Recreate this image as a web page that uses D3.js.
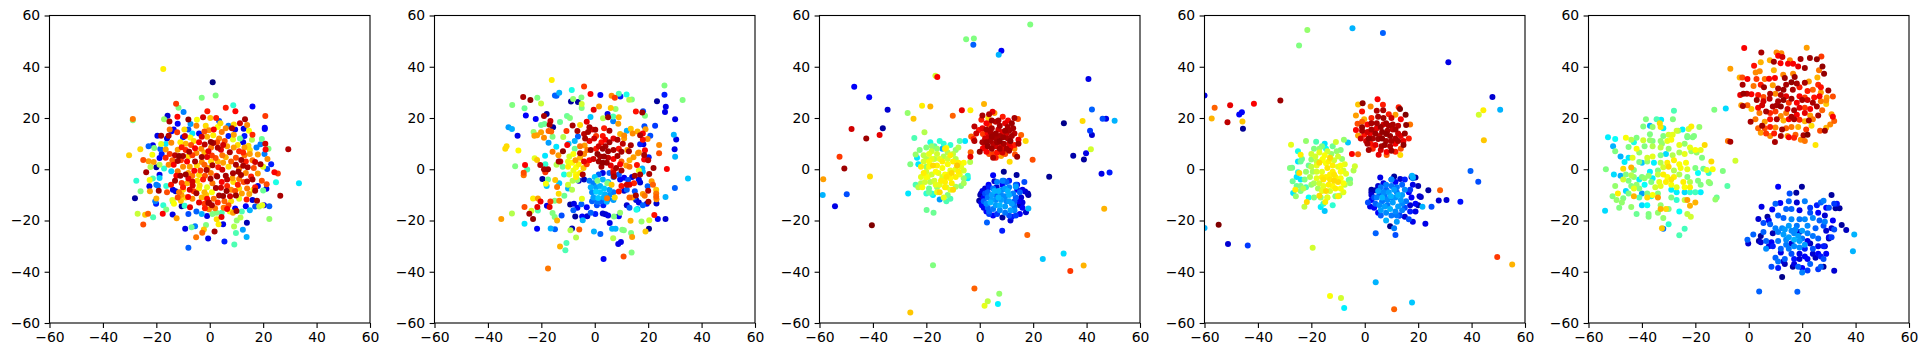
<!DOCTYPE html>
<html>
<head>
<meta charset="utf-8">
<script src="https://cdn.jsdelivr.net/npm/d3@7"></script>
<style>
  body { margin: 0; background: #fff; }
  text { font-family: "DejaVu Sans", sans-serif; }
</style>
</head>
<body>
<svg id="chart" width="1927" height="357"></svg>
<script>
'use strict'

const tickValues = [-60, -40, -20, 0, 20, 40, 60]

// each point is [x, y, colour value 0-100 on the jet map]
const points1 = [
  [-17.4,39.1,64],[1.1,34,0],[-3,27.9,50],[2.2,28.8,50],[-12.6,25.6,82],[-11.7,24,50],[-9.8,22.3,25],[8.8,25,42],[16,24.5,12],[6,24,85],[9.6,22.6,87],[-.9,22.6,85],
  [-15.8,20.9,8],[-17.1,19.5,52],[-28.8,19.1,50],[-28.8,19.6,76],[-12.1,20.5,87],[-8,19.4,98],[20.8,20.8,82],[20.6,16.2,12],[20.6,15.7,12],[-30.2,5.5,67],[-26,7.8,66],
  [-24.9,3.6,80],[29.4,7.8,95],[33.4,-5.5,35],[23,2,15],[24.2,-1.2,88],[25.5,-1.7,82],[-23.8,-1.2,96],[-27.5,-4.5,42],[-28,-11.3,3],[-25.9,-8.6,50],[-22.4,-8.6,72],[-19.1,-8.4,97],
  [-27,-17.4,57],[-24.2,-17.8,68],[-23.1,-17.4,78],[-24.9,-21.6,80],[-21.2,-18.7,45],[-17.6,-17.4,88],[-13.9,-17.7,10],[-12.4,-19.1,72],[-9.2,-23.2,10],[-8,-30.6,22],[-6.8,-22.6,48],[-5.5,-22.2,25],[-5.1,-26.5,76],
  [-2.8,-24.8,78],[-2.2,-23.5,68],[-1.4,-21.8,50],[-.6,-27,10],[1.8,-24.3,96],[5.5,-28.2,15],[9.2,-29.4,45],[9.8,-24.9,45],[9.1,-22.3,55],[12.4,-23.6,28],[13.8,-26.4,30],[13.9,-20.9,5],
  [10.1,-20,52],[11.5,-18.8,55],[22.3,-19.4,52],[22.3,-14.4,22],[26.4,-10.3,96],[24.8,-5.1,40],
  [-15.1,18.6,96],[-15,15.5,76],[-14.3,14.8,12],[-13.5,15.5,12],[-12,17.8,12],[-15.4,13.1,95],[-18.2,13.1,96],[-19.6,13.1,10],[-12.2,14.4,82],[-14.4,10.3,74],[-16.5,9.9,35],[-18.2,9.9,60],[-21.3,9.4,10],[-22.9,9,22],
  [-20.8,8.3,50],[-18.5,7.9,22],[-16.5,7.7,72],[-21.5,5.7,62],[-15,6,82],[-18.8,4.4,12],[-21,2.8,72],[-22.9,3.1,72],[-22.2,.9,55],[-20,.8,3],[-18.8,1.8,55],[-17.1,.3,42],[-15.4,1.8,74],[-14.4,-.8,33],[-18.8,-2.1,10],[-18.8,-3.4,33],
  [-21.3,-3.6,45],[-22.5,-4.2,62],[-22.6,-6.6,10],[-20,-6,25],[-19.4,-6.4,25],[-16.3,-6.5,42],[-20,-11.4,70],[-20.4,-12.5,25],[-20.1,-13.5,15],[-16,-9,80],[-17.4,-14,42],[-16.3,-15.7,50],[-13.8,-12.7,48],[-13.4,-13.5,62],[-10.5,-14.4,3],[-9.4,-14.2,42],
  [-7.4,-14.8,90],[-10.8,-12.3,68],[-8.1,-10.8,88],[-13.8,-8,10],[-12.8,-8.6,8],[-10.6,-10,72],[-10,-8,66],[-7.5,-8,92],[-6,-8.6,82],[-5,-9.4,96],[-3,-11,70],[-4,-13,90],[-2,-13.5,82],[-.5,-13.2,96],[-1.8,-15.2,85],[-.3,-15.6,74],[2,-15.2,76],
  [2.5,-17,50],[4.4,-18.6,90],[6.5,-15.5,88],[5.2,-15,76],[7,-14,80],[3.3,-21.5,64],[5,-21.5,10],[2.6,-19.5,66],[10,-16.3,96],[8.7,-17,72],[9.5,-15.3,12],[13.5,-14.4,12],[11,-11.5,60],[13.8,-11.8,85],[14.8,-9.7,72],[17.7,-12.3,96],[16,-12,8],[19.7,-14,60],[18.5,-14.5,55],
  [20.3,-14,12],[21.2,-7.6,10],[21.3,-5.9,80],[20,-8.3,48],[18,-6.5,10],[17,-8.4,96],[17,-7,85],[16.3,-8,64],[16,-4,96],[14,-4.8,94],[15.5,-2.8,85],[19.5,-4.5,80],[18,-1.7,72],[21.5,.1,20],[20,1,60],[21.6,4,74],[19,2,96],[17,2.8,92],[16,3.5,76],[18,5.8,72],[20.5,6,25],[20.9,7.7,88],[22,8,50],
  [20.8,10,92],[19,9.8,25],[19.5,11.8,48],[15.8,11.5,55],[16,13.5,84],[14.7,15,62],[14,17.3,74],[13.2,19.5,96],[11.3,18,92],[9,17.5,66],[7,17,25],[9.5,15.5,10],[12.7,15.8,10],[8.3,16,96],[6,16,74],[3,16.5,62],[4,18,66],[3.5,18.8,20],[2.4,20,85],[.2,20,68],[-2.5,20.3,92],[-4.8,19.3,62],[-5,17,75],[-7.2,17.7,28],
  [-.3,15.2,74],[-2,14.7,80],[-3,12.7,92],[-4,14,12],[-6.5,14,35],[-9.3,13,92],[-7.3,12.4,62],[-1,12.7,70],[1.3,13.3,64],[3.5,12,74],[5.6,11,80],[7,13,15],[8.7,11.6,60],[11.3,12,48],[12.5,10.5,10],[14.5,9.2,66],[13,8.5,72],[11,7,84],[7.5,6.6,96],[9,8.5,72],[5,9.5,92],[3,8.4,96],[4.2,7.6,90],
  [1.3,10.2,96],[.4,10.6,98],[-1.9,9.7,94],[-.5,7,90],[-3.2,8,74],[-5.5,8.2,88],[-7.7,6.8,96],[-9,7.5,84],[-10.5,8.6,85],[-12,7.6,72],[-13,5.5,94],[-11.5,5.2,98],[-10,5.2,96],[-12,3.2,96],[-10.8,3.5,82],[-8.5,3,88],[-5.5,3,96],[-3,4.8,97],[-1,4.8,90],[.8,5.4,82],[2.2,4.4,80],[4.7,5.5,76],[6,4.7,70],[9.8,4.5,80],[11.8,3.6,96],[13.5,3,85],
  [-13.5,1.8,88],[-10,1,74],[-7.5,1,72],[-4.8,1.5,66],[-3,2.8,74],[-.8,.5,72],[1,1.6,96],[3.2,.8,85],[5,2.5,72],[7,1,66],[9.8,1.8,96],[11,.2,76],[12.5,1.4,96],[14.2,.8,96],[-12.5,-2.5,88],[-11,-2.5,96],[-9,-2,97],[-8,-1.5,72],[-5.8,-.6,88],[-3.5,-.5,82],[-1.2,-.3,96],[.4,-1.5,76],[2.5,-2.5,85],[4.7,-.2,92],
  [6,-2.5,96],[8.7,-1.6,96],[10.7,-1,97],[11.7,-2.2,96],[-13,-4.5,96],[-10.5,-5.4,82],[-8,-3.6,90],[-6.5,-4.8,92],[-4.7,-4.5,66],[-2.5,-4,85],[.3,-3.7,96],[2.8,-2.8,97],[4.5,-5,88],[6.5,-4,94],[8.8,-5,66],[10.5,-6,85],[12.7,-5,80],[-10,-7,85],[-6.4,-6.3,92],[-3.8,-6.3,66],[-1,-7,60],[2.3,-7.3,96],[4.2,-7.2,92],[6.3,-8.5,97],[8,-8,74],[11,-7.5,66],[3.5,-10.2,96],[5,-10.4,97],
  [7.6,-10.5,92],[9.8,-10.2,97],[-1.3,-10,68],[.8,-9,62],[-.3,-13,96],[.8,-14,96],
  [-14,3.5,78],[-16.5,4.5,84],[-12,-.8,76],[-14.5,-6,86],[-11.5,-9,76],[-9,-11,66],[-6.5,-11.5,74],[-8.5,-5.5,70],[-4,-7.5,64],[-2,-9,70],[-1,-11.5,88],[1.5,-11.5,76],[3,-13,84],[5.5,-12.5,78],[8,-12.5,66],[9.5,-8.5,80],[12,-9.5,72],[14,-7.5,76],[-6.5,-2.5,76],[-4,-2.2,66],[-1.8,-2.5,80],[1,-5.5,76],[6.5,-6.5,84],[8.5,-3.5,72],[11,-3.8,76],[13.5,-1.5,74],[16.5,.5,80],[15,6,72],[13,5.5,76],[12.5,6.5,84],[8,3,78],[3,3,70],[.5,3,66],[-2,1.8,78],[-6.5,5.5,82],[-8,5,66],[-5,6.3,74],[-2,6.5,70],[.5,8.5,76],[-7,9.5,80],[-9,10,70],[-11,10.5,64],[-4,10.5,88],[-6,11,66],[2.8,10.5,80],[6.5,9,72],[10.5,9.5,66],[9,13.5,72],[4.5,14.5,76],[-1.5,17,66],[1.5,15.5,88],[-9.5,15.5,66],[-10,12.5,15],[-8,15.5,20],[13,13,15],[15,7.5,66],[17.5,8.5,25],[-16,12,10],[-18,6,15],[-14,-12,60],[-12,-11,80],[7.5,-16.5,62],[4.5,-17,45],[-3,-17.5,30],[-5,-16.5,22],[-8,-17.5,20],[-1,-18.2,10],[1,-17.5,50],[12,-16.5,45],[15,-16,30],[17,-14.5,20]
]

const points2 = [
  [-16.1,34.8,64],[-4,32.3,82],[-8.6,30.9,40],[-13.3,29.9,30],[-14.9,28.8,22],[-14.3,28.7,22],[-26.8,28.2,96],[-24.1,27,98],[-21.5,27.9,50],[-20.1,25.7,57],[-30.9,25.1,50],[-26.3,23.8,48],[-25.8,21,12],[-22.1,19.6,12],[-18,21.6,3],[-19,20.8,96],[-16.6,18.8,93],[-16.9,17.4,96],[-15.6,16.4,3],[-32.3,16.4,28],[-31,15.7,30],[-28.9,13.1,10],[-22.9,14.5,52],[-20.1,17.3,48],[-18.8,17.7,48],[-13,18.4,48],[-10.4,20.8,48],[-9.3,20,50],[-1.6,20.4,32],
  [-8.9,26.4,3],[-8.1,27.4,52],[-6.3,26.2,3],[-5,28,50],[-4.9,25.5,58],[-4.9,23.9,50],[-1.6,29.4,88],[2.1,29,12],[6.3,28.7,74],[7.5,27.9,82],[9.6,28.4,15],[9,29.5,45],[11.9,29.2,40],[12.9,27.1,55],[13.9,27.2,50],[26.1,32.7,50],[26.1,29.1,15],[23.3,26.5,3],[32.9,27,50],[26.6,24.4,10],[26.3,22.3,10],[30.1,19.5,10],[22.6,17,18],[18.1,22.6,20],[17.8,22.1,97],[15.4,22.5,86],[18.8,20.9,50],[1.6,24.5,72],[-.4,23.2,90],[6,23.9,68],[7.8,23.5,52],[4.8,21.6,10],[5,20.3,97],[3.1,19.9,55],[6.9,20.6,45],[9,20.3,70],[8.8,17.8,72],[6.9,18.7,25],
  [29.6,13.5,30],[30.5,11.6,10],[29.9,7.8,10],[30.1,4.9,30],[20.8,13.1,20],[18.6,16.8,20],[24.1,9.5,74],[24.1,6.2,80],[27,.1,88],[22,.5,97],[34.9,-3.6,32],[30,-7.3,22],[26.5,-10.8,30],[23.1,-13.4,8],[20.1,-12.7,96],[20,-8.4,94],[19.8,-6.6,22],[20.4,-1.9,96],[26.5,-19.4,8],[23.6,-19.4,12],[22.3,-17.9,86],[20.4,-19.9,58],[20.3,-23.2,2],[17.5,-20.4,52],[19,-24.3,68],[13.4,-20.1,70],[14,-26.4,72],[13.6,-24.9,50],[10.3,-23.6,50],[10.9,-23.8,50],[13.8,-32.5,50],[10.8,-34,80],[9.8,-28.4,10],[8.8,-29.2,10],[6.9,-26.9,55],[6.5,-23.2,30],[7.8,-23.2,30],[5.6,-21,10],[3.3,-35,12],[-17.5,-38.7,76],[-13,-30.1,70],[-11,-31.6,45],[-10.6,-28.8,45],[-7,-26.6,55],[-9.1,-23.8,55],[-8.5,-23.1,5],[-5.8,-23.5,78],[-.3,-24.3,30],[2.1,-25.3,22],
  [-35,-19.4,72],[-31,-17.3,55],[-26.3,-21.3,35],[-23.1,-19.4,98],[-24.5,-17.4,96],[-23.7,-16.2,58],[-26.3,-14.7,80],[-21.5,-14.7,90],[-21.3,-16.1,45],[-21.6,-23.2,12],[-16.5,-23.1,30],[-14.9,-23.4,22],[-15.8,-17.1,50],[-15,-18.6,50],[-14.1,-20,70],[-12.4,-18,20],[-23.1,-11.4,64],[-21.3,-11.4,72],[-20.3,-12.6,90],[-16.6,-12.6,82],[-16.9,-14.7,90],[-17.9,-14.2,10],[-13.3,-12.3,74],[-15,-12.3,50],[-13.5,-9.6,66],[-11.4,-10.3,48],[-14.1,-6.9,76],[-18.3,-5.7,62],[-14.8,-4.2,68],[-19.6,-3.8,3],[-17.5,-4,48],[-18,-6.5,32],[-13.3,-5.5,32],
  [-33,9,66],[-33.5,8,66],[-28.6,7.3,63],[-29.8,1.2,50],[-26.1,1.7,88],[-25.3,-.1,45],[-26.6,-1.4,80],[-26.6,-2.3,76],[-22.5,4.3,60],[-21.6,3.6,68],[-20.4,1.7,94],[-18.5,2,42],[-19,0,96],[-17.5,0,97],[-18.5,-1.2,82],[-22.6,13.1,72],[-21.6,13.3,72],[-20.1,14.4,72],[-19,12.3,74],[-17.3,14.9,78],[-16.3,14.7,78],[-15.8,12.7,50],[-17.3,10.3,28],[-14.4,8.8,35],[-18.6,5.3,35],[-15.8,6.8,76],[-13.6,5.5,72],[-11.9,7,98],[-10.3,9.5,88],[-11.8,12.6,55],[-10.6,14.9,82],[-8.3,17.1,96],[-6.5,14.9,96],[-6.3,12.8,22],[-5.5,17.3,66],
  [-12.9,3,92],[-13.5,3,96],[-14.3,1.8,55],[-12,1,48],[-11.5,-2,40],[-10,-6,58],[-8.5,-8,55],[-10,-7.5,30],[-6,-4.5,8],[-4,-4,6],[-7.8,-13.5,10],[-9.2,-13.8,3],[-6.5,-15,12],[-8,-16,22],[-5,-13.7,22],[-4.8,-11.5,60],[-3,-14.8,12],[-1.5,-17,22],[.2,-17.5,15],[-2.8,-18.3,8],[-7.3,-18.4,3],[-4.7,-18.4,12],[-4.5,-19.9,30],[3,-17.3,8],[4,-17.6,8],[5,-18,10],[9,-18.3,12],[7.2,-18.4,50],[9.5,-17,52],[13,-15,22],[12,-14,8],[15.6,-15.8,40],[16,-15.5,32],[18,-14,22],[19.5,-13.5,12],[16.5,-13,10],[15.5,-12,8],[14,-11,72],[13,-11,78],[15.4,-10.2,96],[14.8,-11,20],[18,-9.7,72],[18.7,-10.3,76],[23,-9.5,76],[23,-10.7,78],[23.1,-11.7,74],[23,-8,68],[21.8,-6,78],[21.3,-4.7,72],
  [15,-8.6,20],[13,-6,90],[12,-6,92],[10,-6.5,86],[12,-8,22],[11,-8.4,8],[9,-8.7,86],[16.5,-4,10],[17,-5.2,8],[14,-3,8],[14.7,-5.5,84],[12.5,-4.2,20],[11,-3.3,12],[9.5,-4,12],[9,-2,22],[10,-.5,96],[7,-1.5,92],[7.2,-2.8,96],[17,-2,96],[15,-2.5,96],[18,-1,32],[16.5,-.5,60],[17.8,.3,30],[15.8,1.7,86],[13,1,76],[11.8,1.5,72],[10,3,78],[13,3.5,70],[20,3.5,94],[18.5,3.8,88],[18.5,5.6,96],[20.2,4.7,15],[18.8,7.4,88],[16.5,6.5,74],[16.2,6.2,72],[14.5,4.7,72],[12.2,7.5,72],[10,6.8,96],[13.5,9.4,96],[12.8,7,96],[14.2,14,74],[16,14.7,70],[17,13.3,95],[18,14,88],[19,15.6,72],[19.8,11.8,74],[18,11.5,86],[17,9.8,15],[18.2,9.8,10],[11,13.2,74],[9.5,13.8,70],[12,15,30],[13.5,15.8,68],
  [-7.5,11,30],[-9.8,10,32],[-7.5,8,48],[-8,6,62],[-9.5,5,58],[-10,3,60],[-10,1,64],[-8.5,2.5,62],[-7.2,3.5,72],[-6,2,64],[-7,.8,62],[-8,-.5,60],[-9.5,-2,58],[-7,-2,63],[-5.5,-1.5,64],[-7,-3,64],[-4.5,-2,95],[-8.3,-4.5,55],[-6.5,-4.2,52],[-4.2,.5,68],[-5.5,4.5,70],[-4,6,74],[-2.8,7.5,76],[-4,3,90],[-5.5,6.2,96],[-3,2,82],[-5.5,9,76],[-3.8,9.3,72],
  [-3.6,12,96],[-4,13.8,94],[-2.5,14.5,96],[-1,15.5,90],[-2,16.4,96],[-3,18.5,90],[.2,15.4,96],[-.2,12,92],[.5,13,82],[-2,11,90],[3,13,86],[3.5,16,85],[5.5,15,96],[4,11.5,88],[5.5,10.5,96],[7,12,90],[8.5,11.5,96],[10.5,10,94],[11,12,72],[1.5,9,92],[2.5,10.5,86],[.5,8,86],[-1.5,7.5,97],[1,6,98],[3,8,97],[4,9,96],[5,7,97],[7,7.5,96],[9,8,86],[2,5,96],[3.5,5,97],[5,4.5,94],[7,4,88],[8.5,5.2,96],[9.5,2,88],[1.5,3,97],[3,2.5,98],[4.5,2.5,97],[6,1.5,90],[-.5,4,92],[-2,3.5,88],[2.5,1,96],[8,.5,96],[7,-.5,85],
  [-2,-4.5,25],[0,-3,32],[1.5,-2,22],[3,-1.5,10],[5.5,-1.5,22],[7,-3,25],[-.5,-5.5,25],[1,-4.5,50],[3,-4,30],[5,-5,32],[4.7,-5.5,50],[6.3,-6,68],[-1.5,-7,30],[.5,-7,28],[2,-6.5,30],[3.5,-7.5,32],[5.5,-8,28],[7,-9,24],[-1,-9,26],[.5,-8.8,33],[2,-9,32],[3.8,-9.8,30],[5.5,-10,26],[-.5,-11,28],[1.3,-11.2,32],[3.3,-11,30],[5,-11.7,24],[-1,-12.5,22],[1,-12.7,24],[2.5,-12.5,22],[4.5,-12.7,30],[7.5,-11,66],[4.6,-11.3,76],[7,-12,28],[.8,-14,20],[3.2,-14,15]
]

const points3 = [
  [18.9,56.5,50],[-5.1,50.7,50],[-2.2,51,50],[-2.4,48.6,22],[8.1,46.2,12],[7.1,44.7,30],[40.7,35.2,10],[-16.6,36.5,58],[-15.9,36,88],[-47,32.2,12],[-41.4,28.1,12],[-34.5,23.2,8],[42,23.3,22],[-27,22,52],[-21.6,24.8,64],[-18.5,24.5,70],[1.6,25.5,70],[-6.7,23,90],[-3.5,23,64],[-10.1,20.9,78],[-24.8,19.7,68],[46,19.7,20],[47.3,19.7,10],[50.5,18.9,30],[31.5,18,1],[38.5,18.8,66],[-36.3,16,3],[-48,15.7,92],[-37.5,13.4,90],[-42.5,12,97],[41.3,15,18],[42,13.4,8],[-20.7,14.4,55],[-24.5,12.2,45],[-52.5,4.9,82],[-50.7,.3,97],[39.8,6.2,10],[35,5.3,4],[39,3.8,3],[41.6,7.8,58],[-58.6,-3.9,72],[-41.1,-2.8,66],[26,-2.9,2],[45.6,-1.8,10],[48.6,-1.3,15],[-58.8,-10,30],[-49.8,-9.8,20],[-54.2,-14.4,10],[-26.8,-9.5,35],[46.6,-15.4,70],[-40.4,-21.9,100],[8.4,-24,15],[17.8,-25.7,78],[2.7,-20.8,22],[-19.9,-15.9,48],[-17.3,-17,48],[18.2,-15.3,30],[17.3,-16.8,8],
  [-17.5,-37.5,50],[23.6,-35,32],[31.4,-32.9,34],[33.9,-39.7,82],[38.9,-37.6,70],[-2,-46.5,78],[7.3,-48.6,52],[3,-51.5,56],[1.8,-53.3,60],[6.8,-52.6,36],[-26,-55.9,68],
  [19.8,3.7,80],[11.2,2.9,66],[-3.4,6.6,78],[-3.5,4.9,90],[-3.6,2.8,55],[14,4.9,97],[13.2,5.8,80],[17.2,11,66],[15.5,13.4,78],[14.3,19.6,80],[13,20,96],[10.6,19,88],[8.6,20.5,85],[5.5,22,72],[4.8,22.4,90],[3.5,21.5,95],[1,21,96],[.6,19.3,85],[3.2,20,66],[-2,16.7,94],[-.3,15.3,86],[-3.2,12.8,78],[-2.3,11.8,85],[-1.3,14,92],
  [-2,11,95],[0,6.8,98],[1.2,8.2,88],[1,10.5,96],[2,12,92],[1.2,13.8,82],[2.5,15.5,96],[2.5,18,88],[4.5,16,96],[4.5,19,97],[6,18.5,94],[7,19,96],[7.5,17,96],[9.5,18,90],[10.5,16.5,96],[12,18,97],[12.5,16,96],[13,14,94],[12,13,96],[14.5,11.5,90],[14.5,10,96],[13,9.5,85],[13,8,74],[11,7.2,96],[10,8,96],[8.5,6.5,92],[8,5.2,72],[6,4.5,85],[5,4.5,95],[5,6,82],[3.5,6,80],[2.5,6.8,88],[3,9,98],[2.5,10.5,97],[4,11,96],[4.5,12.8,97],[6,12,96],[6,14,97],[7.5,13,96],[7.5,11,98],[9,10,96],[8.8,12.5,97],[10.5,12,96],[10,14,92],[11,10,90],[6,9,92],[7.5,8,96],[4.5,8,97],[9.5,15,97],
  [-22,1,64],[-20,4,55],[-21,5.5,56],[-22.5,7.5,50],[-20,8.5,50],[-18.5,10.5,40],[-17,9,45],[-15,11,42],[-13.5,10,42],[-14,8,30],[-11,9.5,42],[-9,7.5,52],[-8,8.5,55],[-7.5,11,45],[-5.5,11,35],[-13,8,64],[-24,5.8,52],[-23.5,4.5,35],[-23,2,35],[-26,2,50],[-22,-5.5,55],[-24,-6,45],[-23,-7,56],[-21.5,-7,62],[-20,-9.5,42],[-19,-9,48],[-18,-9.5,42],[-17.5,-10,36],[-16,-9,60],[-15,-9,66],[-15,-11.8,28],[-12.5,-12.5,45],[-11,-11.5,45],[-13.5,-11,60],[-12,-10,50],[-12.5,-7,58],[-10,-8,66],[-9,-6.8,54],[-7,-6.5,50],[-4.5,-2.5,42],[-4.5,-3.5,36],[-6,-3.5,52],[-7.5,-2,60],[-6,-.5,58],[-7,1,60],[-6,2.5,62],[-8,2.5,64],[-9,4,55],[-10,6,56],[-11,5.5,64],[-12,4,58],[-13.5,5,55],
  [-16,6,58],[-18,7,58],[-19,6,60],[-17,4,56],[-15,4,60],[-16,1.5,64],[-17.5,1.5,66],[-19,1,62],[-20,-1,58],[-22,-3,60],[-20,-3,62],[-18,-2,58],[-15.5,-1.5,60],[-13,-2,62],[-11,-.5,60],[-9,0,60],[-12,2,62],[-14,.5,62],[-17,-4.5,58],[-15,-6,60],[-13,-5,64],[-11,-3.5,63],[-9,-3,64],[-10.5,-5.5,64],[-18.5,-5,55],[-20.5,-5,58],[-16,-7,52],[-13,-7,64],[-11.5,-2,64],[-12.5,-3,65],[-14,-3,58],[-12.5,8.3,62],[-18,4,60],[-21,-1.5,64],[-8.5,1.5,68],[-19,-7.5,48],
  [5,-2.3,12],[9,-1,2],[13.8,-2.2,3],[5.5,-4.7,8],[16.7,-5,20],[14,-6,12],[11,-4.5,15],[9,-4.5,22],[8.5,-6,12],[6.3,-7,8],[3.3,-6,12],[2,-7.5,8],[1,-8.5,10],[.5,-9.5,6],[.2,-10,4],[16,-8,10],[17,-8.7,8],[18,-9.5,5],[18.2,-10,3],[-.2,-12.3,3],[.5,-13,10],[.8,-14,12],[1.5,-15,10],[2.5,-16.5,12],[3.5,-17.5,18],[5,-18,12],[6.5,-17.5,18],[8.5,-18.8,3],[11.5,-20,8],[12,-18.5,15],[13.5,-18,18],[15,-17.5,12],[16,-15,12],[16,-13,10],[15,-14,3],[15.5,-11,8],
  [3,-9,22],[5,-7.5,24],[6.5,-5,25],[8.5,-4.5,25],[10,-5,22],[13.5,-6,22],[13.5,-6.8,28],[11,-7,25],[8.5,-8,26],[7,-8.5,30],[4.5,-10,28],[3,-11,24],[2.5,-13.5,26],[4,-13,30],[3,-15,22],[5,-15.5,24],[6,-14,28],[8,-12,28],[9.5,-10.5,26],[11,-10,30],[12.5,-9.5,25],[13.5,-11,22],[11,-12.5,28],[9.5,-14.5,28],[7.5,-16,26],[9.5,-17,24],[11.5,-16,28],[13,-14.5,24],[7,-11,30],[5.5,-8.5,30],[9.5,-7.5,28],[11,-18,20],[13,-12.5,22],[6,-12,26],
  [14,-8,12],[15,-9,22],[14.5,-12.5,12],[1.5,-11,12],[2,-9.5,20],[1.5,-12.5,22],[3.5,-16.5,22],[7.5,-14,30],[10,-12.5,26],[12,-13.5,28],[10.5,-8.5,30],[8,-10,26],[4.5,-12,28],[6,-10,22],[3.5,-7,15],[13,-16,26],
  [4,14.5,96],[2,9,90],[3,14,88],[7,15.5,92],[8.5,14.5,90],[11,15,96],[11.5,11,98],[9,8.5,86],[6.5,10.5,97],[5,10,94],[3.3,12.5,92],[1,16,90],[3.5,17.5,82],[8,9.5,92],[11.5,8.5,88],[6.5,6.5,86],[9.5,6,80],
  [-16.5,-1,62],[-19,3,62],[-21,3,58],[-14,3,64],[-10,3,64],[-10.5,-1.5,66],[-8,-1,64],[-14.5,-4.5,64],[-16.5,-6,60],[-19.5,-3,60],[-18,9,52],[-16,8,52],[-12,6.5,55],[-20,1,52],[-6,-5.5,54],[-11,-8,60]
]

const points4 = [
  [-21.5,54.3,52],[-4.6,55,30],[6.8,53.2,22],[-24.6,48.3,50],[31.3,41.8,10],[-60,28.8,10],[47.8,28.2,8],[-56.2,24,78],[-50.4,25,90],[-41.5,25.6,88],[-31.6,26.8,97],[50.7,23.2,30],[-46,22.2,12],[-47,21.4,12],[-57.3,19.8,70],[-45.8,18.6,68],[-51.4,18.3,94],[44.4,23,64],[42.7,21.3,58],[-45.6,15.8,2],[44.6,11.3,68],[39.6,-.7,22],[42.5,-4.9,20],[28.2,-8.2,78],[23.8,-8.2,3],[27.7,-12.2,8],[30.6,-12,8],[35.8,-12.7,14],[25,-14.6,20],[21.6,-14.6,30],[-54.7,-21.7,100],[-60,-22.9,30],[-51.2,-29.2,8],[-43.8,-29.8,18],[4.1,-25,22],[11.5,-25.7,20],[-19.5,-30.6,58],[22.7,-21.3,10],[18,-20.5,10],[4.1,-44.1,30],[-13,-49.5,62],[-8.9,-50.2,58],[-7.7,-54.1,36],[17.7,-52,32],[11,-54.6,78],[49.6,-34.2,82],[55.2,-37.2,70],
  [-.8,25.8,98],[-2.5,25.3,68],[4.8,27.3,88],[6.8,25.2,85],[12.7,24.2,85],[13.2,23.5,100],[15.3,21.3,100],[2.2,24.5,74],[-1,22.5,86],[-3.3,21,72],[4.5,22.8,95],[6.9,23,96],[9,21.5,85],[11.5,21.3,72],[13.5,19.5,88],[-.2,19.5,70],[1,17.5,88],[-2.7,17.8,80],[-3.3,15.3,88],[-2.5,13.2,72],[-1.5,12,92],[-.2,13.5,86],[-1,15,96],[-1,16.4,98],[2.5,15.5,96],[2.5,18,96],[4.5,18,96],[5,20.5,96],[7,20,97],[8,18,96],[10,20,92],[10.5,17.5,96],[11.5,15.5,96],[12.5,17,94],[15,14,97],[15.5,17.3,98],[17,17.5,76],[16.5,12,85],[14.5,11,90],[14.5,9.5,98],[13.5,8,80],[13.3,5.6,66],[10,7.2,97],[8.2,6.7,88],[8.2,5.6,78],[5.2,5.7,90],[4,9.5,90],[1.5,7.5,96],[2.2,10,86],[.5,11,92],[1.5,12,98],[3,12,96],[4,14,97],[5,11.8,97],[6.3,9,96],[6.5,12,98],[8,11,96],[9.5,9,95],[9.5,13,97],[11.5,12,96],[11.5,10,88],[6.5,14.5,98],[8.5,15,96],[6,16.5,97],[12.5,14,92],[11.5,6.8,85],[8,13.8,98],[4.5,16,90],
  [-4.8,6,88],[-2.5,5.9,78],[-27.6,9.6,60],[-22,11,52],[-7.8,11.5,52],[-6.3,10.4,32],[-10.8,10.6,58],[-18.2,10.7,45],[-16,9,50],[-15,10,35],[-17,8,52],[-14.5,8,38],[-25,7,40],[-24,5.7,64],[-23.5,4,48],[-25,3,35],[-24,3,48],[-28,.5,50],[-27.2,.6,48],[-3.7,1.2,58],[-4.2,-.5,55],[-5.5,-4,48],[-5.5,-5.5,52],[-25,-1.2,40],[-24.5,-1.5,66],[-25.5,-3,35],[-24,-4,35],[-27,-4.7,48],[-25.5,-6.5,48],[-24,-6.5,50],[-26.8,-9.3,35],[-26,-8,64],[-25.8,-10.5,52],[-24,-8.5,50],[-23,-7.5,55],[-21,-11,38],[-22.6,-14.6,56],[-21.7,-12.8,66],[-19,-11,50],[-17,-10.3,66],[-16.5,-14.7,36],[-15.5,-13.5,42],[-15,-16.3,32],[-14.8,-12.8,64],[-14,-11,60],[-12,-14,42],[-11,-10.5,50],[-10,-10.5,64],[-9.5,-10.3,52],[-8,-9,60],[-7.5,-6,56],[-6,-4.2,48],
  [-22,-7,44],[-22.5,-4,50],[-22,-1,52],[-21,1.5,48],[-20,3.8,52],[-20.5,-3,55],[-18.5,5,58],[-20,6,58],[-17,6.5,60],[-15,5.5,62],[-14,7,58],[-12.5,6,52],[-10.5,7,52],[-9,7.5,50],[-10,5,58],[-11.5,3.5,58],[-8.5,4,52],[-7.5,2,60],[-9,1.5,62],[-8,-.5,58],[-7,-1.8,60],[-9,-3.5,62],[-10,-5,66],[-8,-5.5,62],[-11.5,-4.5,66],[-13,-4,65],[-14.5,-3,64],[-16,-3,64],[-18,-3.5,60],[-19,-5.5,54],[-17,-5.5,58],[-15.5,-6.5,60],[-13.5,-6,64],[-12,-6.5,63],[-14.5,-8.5,66],[-13,-8.5,58],[-17.5,-7.5,54],[-18,-1,58],[-16,-1,60],[-14,.5,65],[-12,-1,64],[-10,1,60],[-12,1.5,64],[-14.5,2.3,62],[-17,2.5,66],[-18,1.5,60],[-15.7,4,62],[-13.5,3,64],[-11.5,-2,65],[-15.5,-4,65],[-13,-2,64],
  [5.8,-3.2,10],[11,-2.8,3],[13.3,-3.8,8],[10,-4,20],[11.5,-5,12],[15,-4,15],[17.5,-3,5],[19,-3.2,3],[18,-3.5,25],[18,-6,10],[20,-6.5,5],[21,-10.8,5],[20.5,-10.5,8],[20,-14,3],[19,-13.5,12],[19,-16.5,10],[17,-16.5,15],[16.5,-19.5,20],[15,-18.5,8],[13,-18,12],[12,-20.5,28],[9.5,-22.2,1],[11,-23,25],[8,-20,30],[6,-18,22],[5,-17,12],[3.5,-15,12],[2,-14.5,10],[1.2,-13,20],[2.5,-12,12],[2.5,-10,8],[2.5,-9,5],[2.5,-8,3],[4,-8.2,5],[5,-6.5,8],[7,-5.5,10],
  [6,-7,24],[8,-6,25],[10,-6.5,24],[10,-4,26],[12,-7,24],[14,-6,22],[15,-8,26],[17,-8,18],[14,-10,28],[15.5,-12.5,24],[13.5,-12,28],[11.5,-11,27],[9,-9,28],[7,-9,26],[5,-8.5,28],[4.5,-11,25],[6.5,-11,30],[8.5,-12,26],[10.5,-13,28],[12.5,-14.5,28],[14,-16,25],[15,-15,20],[11.5,-16.5,26],[9.5,-15.5,30],[7.5,-14.5,28],[5.5,-14,26],[6,-16,28],[8,-17,26],[6.5,-12.5,24],[4,-13.5,22],[10,-18,24],[18,-3,30],[17.7,-2.5,30],[9.8,-10.5,30],[12,-9,24],[13,-18,20],
  [16.5,-9,12],[17.5,-11,12],[17,-14,8],[3.5,-11,20],[11,-8,28],[8,-8,22],[10,-11,24],[12.5,-10,30],[14,-13.5,26],[7.5,-10.5,24],[5.5,-10,22],[8.5,-14,24],[12,-18,24],
  [3,15,90],[2,14,88],[1,10,96],[3,8,84],[6,7.5,92],[7.5,9.5,97],[10,11,96],[12.5,11,96],[13.5,13,90],[10.5,15.5,94],[9,17,96],[7,17.5,92],[2.5,20,84],[1,14.5,92],[-1,18.5,78],[5.5,13,94],
  [-16,3.5,62],[-13,4.5,66],[-11,-3,64],[-9,-1,62],[-16,-8.5,60],[-11,-7.5,64],[-9,-7.5,62],[-20,1,56],[-19.5,-1,54],[-20,-6,52],[-18,3,56],[-12,9,48],[-19,8,50],[-14,-11,56],[-16.5,-11,52]
]

const points5 = [
  [-1.7,47.3,88],[21.7,47.4,72],[4.7,45.6,96],[10.4,45.6,74],[12.2,45.3,74],[11,44.3,88],[12.6,43.8,92],[27.2,44,82],[22.9,43.4,97],[25.5,42.9,98],[19.4,43,96],[4.5,41.8,70],[7.9,42.5,70],[9.4,42,97],[15.4,42.5,74],[2,40.4,86],[-6.9,39.2,72],[27.6,40.1,98],[21,39.5,97],[18.5,40.1,90],[11.9,41.4,88],[14.7,41.2,88],[16.6,41.2,88],[28.2,37.3,98],[26.3,38.6,76],[2.6,37.8,74],[4.1,38.2,74],[9.4,38.6,70],[16.6,37.3,74],[12.9,36.9,74],[-3.4,35.8,70],[-2.4,35.8,80],[-.5,35.2,88],[2.9,35.2,82],[6,35.2,76],[7.6,35.3,88],[9.8,35.6,88],[13.5,35.6,97],[17.2,36,97],[25.7,35.8,70],
  [-2.3,33,96],[1.8,32.5,76],[4.5,33,85],[14,33,96],[16,34,98],[18,33.5,96],[21,33.8,96],[22.5,34.2,72],[26,33,84],[27,32,86],[5.7,32,97],[9,32.8,72],[11,31.5,96],[13,31,97],[16.5,31,96],[19,32,85],[22,30.5,85],[24,31,78],[29.8,30.7,97],[27,30,72],[-3.2,29,90],[-2,29.5,97],[-.7,29.5,94],[1,29.3,88],[3.5,29,86],[5.5,28.2,80],[8,29.5,95],[10,29.5,74],[12,29,95],[14,28.5,90],[16,27.5,97],[19,28.5,88],[21,28,82],[24.5,28,86],[26.5,28.5,88],[29.2,28,72],[31.5,28.4,80],[29,26.8,74],[3,27,97],[5.5,26.5,92],[7.8,27.5,94],[11,26.5,96],[13,27,98],[15,26,82],[18,26,88],[20,27,96],[22,27,92],[24,26,96],[27,26.5,76],[29,25.5,68],
  [-2.8,25,72],[-2.2,24.7,96],[-.5,25,78],[1,23.5,68],[3.5,24,88],[5,25,92],[6.5,22.5,96],[9,24.5,96],[10.5,25,96],[12,24.5,98],[14.5,23.5,92],[17,23,96],[19,24,90],[21,24,82],[23,23.5,88],[25.5,24.5,96],[27.5,23,78],[4,22,76],[8,22,84],[10,22.5,82],[12,20.8,74],[14,22,76],[16,20.5,96],[18,21.3,88],[21,22,90],[23,21,72],[26,21,96],[2.5,19.5,76],[.7,18.5,96],[6,18.5,72],[8,19.5,86],[10.5,19.5,96],[13,19,70],[15,19.5,88],[17,19.5,96],[19,19.3,84],[21,18.7,70],[22.5,19,96],[24,19.5,76],[31,21.5,72],[31.5,20.5,88],[32,18.8,78],[30.5,17.5,74],[29,16.2,70],[28.5,15,97],[26.7,15,80],[23.5,17,66],[21.5,15.5,82],[18.5,16.5,70],[16,16.5,76],[14,16,78],[12.5,15.5,97],[10,16.3,74],[8,16.5,85],[5,17,97],[6,16,80],[3.5,16,78],[4.5,14.2,72],
  [6.5,14,82],[8,13,74],[9.5,14,85],[12,13,96],[15,12.5,88],[17,12.3,84],[14.5,13,72],[17.5,13.5,78],[20.5,13.3,96],[22,13.5,100],[19.5,11.5,74],[21,11,76],[25,9.5,65],[9.8,10.6,96],[-7.8,11,76],[-6.9,10.7,96],
  [-12.9,23.2,50],[-8.6,23.7,34],[-28,22.8,45],[-38.5,19.5,50],[-34.5,19.5,45],[-32.8,19.3,36],[-28.4,19.5,50],[-37,17,30],[-36,16.5,52],[-33.3,18,66],[-39.5,16.7,50],[-32,16,36],[-33,16.5,65],[-26.4,15,52],[-24.8,15.5,36],[-22.5,15.7,58],[-21.5,16.7,64],[-18.5,16.5,52],[-37,13.7,50],[-33,11,52],[-32,13,50],[-30,13.5,58],[-28.5,13.5,60],[-27,15,58],[-23,12.5,48],[-23,13,50],[-20.5,13,50],[-21,12.5,50],[-52.7,12.5,36],[-50,11.8,38],[-46,12.3,62],[-44,11.5,55],[-43,10.5,40],[-42,12.3,50],[-39.5,11.3,58],[-37,11.3,52],[-36,11,50],[-32.5,10,52],[-30.5,11,60],[-29,11.5,62],[-50.8,9,30],[-50,7,50],[-45,8.7,50],[-42,8,62],[-39,9,50],[-36,9,55],[-33,8.5,56],[-30,8,52],[-26,9.5,60],[-24,10,52],[-22,8.5,60],[-20,7.5,62],[-18,7.5,60],[-16.5,9.5,66],
  [-48,5,30],[-45,4.5,35],[-43.5,4.5,60],[-41,6.5,52],[-38,4.5,58],[-36,5,60],[-33,5.5,50],[-31,6,34],[-28.5,5.5,55],[-26,6.5,54],[-24,6,60],[-21.5,7,52],[-19.5,6.5,52],[-17.5,4.5,50],[-46.5,2.8,36],[-44,.7,70],[-41,2.8,50],[-40,2.5,32],[-38,3,52],[-35.5,2.5,36],[-33,2.5,55],[-30.5,2.5,64],[-28,3.5,64],[-26,2,62],[-23.5,2.5,62],[-14,3,66],[-5,3.3,58],[-53.5,0,50],[-47,.2,66],[-43,-.3,50],[-37,-1,36],[-34,-.5,50],[-32,.8,58],[-30,1,66],[-28,-.5,55],[-25.5,.5,62],[-23,0,60],[-20,.5,50],[-17,.2,48],[-15.7,-.3,60],[-13.5,0,62],[-9.7,-.7,50],
  [-50.5,-2,34],[-48,-2.5,30],[-46,-2,50],[-44,-2.3,55],[-40,-3,50],[-37.5,-2.5,52],[-36,-3.5,36],[-34,-2,56],[-32,-2,64],[-30.5,-3,62],[-28,-3,64],[-26,-2,55],[-23,-3,50],[-19,-1.5,38],[-15,-1.5,42],[-47,-4,58],[-45,-4.5,50],[-43,-3,52],[-41,-4,36],[-39,-3.5,52],[-36.5,-5,50],[-33.5,-5,60],[-31,-5,64],[-29,-4,65],[-24.5,-5,64],[-22,-5,55],[-19,-4.5,50],[-15,-5,52],[-14.5,-5.5,50],[-50,-6.5,52],[-46,-8.5,34],[-44,-6.5,50],[-42,-6,52],[-39,-6,38],[-35,-7,58],[-33,-6.5,60],[-29,-6,62],[-27,-7,60],[-24,-7,62],[-22,-7,64],[-18,-6,50],[-8,-6.5,46],
  [-49,-9.5,64],[-45,-9.5,50],[-43,-7.5,60],[-41,-7.5,50],[-40,-9.5,28],[-38,-9.5,50],[-36,-10,62],[-34,-9.5,50],[-29,-8,36],[-27,-9,36],[-24,-9,34],[-22,-9,42],[-20,-9,44],[-18,-9,36],[-51,-10.5,50],[-47,-11.3,50],[-43,-10.5,70],[-41,-11,45],[-38,-11,66],[-36.5,-10.5,40],[-34,-11,72],[-29,-11,50],[-27,-12,42],[-24,-12,56],[-23,-12,72],[-20,-13,70],[-12,-11,48],[-12.5,-11.8,52],[-49.5,-12,52],[-47.5,-13,52],[-40,-14,34],[-38,-14,38],[-33,-14,52],[-22,-14.2,70],[-53.8,-16.2,34],[-48.5,-15,50],[-44,-14.7,52],[-42,-17.5,48],[-37.5,-17.5,50],[-34,-17,52],[-33,-15.5,70],[-31,-15.5,66],[-30,-15.5,50],[-26,-16.5,38],[-23,-17.5,56],[-21.7,-18.5,58],[-37.5,-18.5,50],[-32,-19,52],[-30,-21.5,42],[-32,-23.2,24],[-32.5,-23,68],[-24,-23.2,44],[-26,-25.8,45],
  [11,-6.8,12],[19.9,-6.8,3],[17.8,-9.2,3],[15.3,-9.5,20],[31,-10,3],[28,-12.3,25],[32,-13.5,18],[33,-13.5,14],[32.5,-15.2,3],[34,-15.2,3],[30,-15,20],[29,-15,12],[4.8,-14.6,10],[11.8,-13.2,12],[10,-13.5,22],[15,-12.5,22],[18,-13,8],[21,-12.5,25],[23,-15,18],[25.5,-14,15],[26,-17,12],[28.5,-18,8],[27,-13,22],[7,-18.5,3],[8.8,-15.7,12],[14,-15.5,22],[16,-15.5,22],[19,-16,10],[23,-17,20],[3.6,-19.4,8],[7.5,-20,12],[11,-18,22],[13,-19,22],[16,-19.5,26],[19,-19.5,24],[21,-19.5,26],[24,-19,26],[26.5,-20,22],[31.5,-20,12],[28.5,-20.5,25],[34.8,-21.8,3],[36.5,-23.7,6],[5.5,-21,20],[8,-21.5,22],[10,-23,25],[12.5,-23,26],[15,-22,28],[18,-22,24],[22,-22,26],[25,-23,22],[28,-22,20],[31,-23,8],[32,-23.5,20],[1.7,-25.5,22],[4.5,-26,3],[5.5,-24.5,22],[9,-25,5],[11,-24.5,25],[13,-25.5,28],[17,-25,26],[20,-24,28],[22,-25,25],[24,-26,24],[29,-24,8],[30,-26.5,10],[-.5,-27.5,22],[-.2,-29,8],[3.8,-28,3],[6.5,-28,22],[8.5,-28.5,12],[11,-28,24],[14,-27.5,26],[17,-27.5,30],[19,-28,28],[22,-28,10],[26,-27,22],[30,-27,3],[28,-30,15],
  [4.5,-28.5,8],[7.5,-30,10],[9,-30,15],[12,-31,22],[15,-31,24],[19,-30.5,26],[21,-31,15],[24,-31,20],[26,-30,10],[28.5,-30,8],[6.5,-31,26],[12,-32.5,10],[16,-33,20],[19,-33,10],[21,-34,12],[26,-33,12],[29,-33,12],[28,-35,20],[10,-34.5,22],[13.5,-35,22],[17,-35,14],[19,-35,8],[22,-35,12],[25,-34.5,6],[27,-34,15],[11,-36,24],[13,-36,8],[17,-37,10],[23,-37,22],[8.5,-38,20],[11,-38.5,15],[13.5,-37,5],[16.5,-38,3],[18.5,-38,22],[20,-38.5,12],[27,-38,22],[28,-38,3],[26,-39,18],[22,-39.5,18],[20,-40.3,25],[32,-39.6,8],[12.5,-42,1],[3.9,-47.7,22],[18.2,-47.8,22],[39.5,-25.5,30],[39,-32,30],[31,-26.5,18],
  [16,-24,26],[18.5,-26,28],[15,-26.5,28],[20,-27,24],[17.5,-23.5,26],[13.5,-23.5,28],[21,-29.5,28],[17,-30,26],[14,-29.5,24],[19,-24.5,8],[23,-29,6],[24,-33,8],[16,-29,8]
]

const panels = [points1, points2, points3, points4, points5]
const panelLeft = [49.5, 434.5, 819.5, 1204.5, 1588.5]
const panelWidth = 320.5
const panelTop = 15.5
const panelHeight = 307.5

// matplotlib jet, sampled at even steps
const jet = d3.scaleLinear()
  .domain(d3.range(9).map(function (i) { return i * 12.5 }))
  .range(['#000080', '#0000ff', '#0080ff', '#00ffff', '#80ff80', '#ffff00', '#ff8000', '#ff0000', '#800000'])

const svg = d3.select('#chart')
const x = d3.scaleLinear().domain([-60, 60]).range([0, panelWidth])
const y = d3.scaleLinear().domain([-60, 60]).range([panelHeight, 0])

svg.append('defs').append('clipPath').attr('id', 'plotClip')
  .append('rect').attr('width', panelWidth).attr('height', panelHeight)

panels.forEach(function (data, i) {
  const g = svg.append('g').attr('transform', `translate(${panelLeft[i]},${panelTop})`)

  // higher colour values sit on top, as in the original
  const sorted = data.slice().sort(function (a, b) { return a[2] - b[2] })
  g.append('g').attr('clip-path', 'url(#plotClip)')
    .selectAll('circle')
    .data(sorted)
    .enter()
    .append('circle')
    .attr('cx', function (d) { return x(d[0]) })
    .attr('cy', function (d) { return y(d[1]) })
    .attr('r', 3)
    .attr('fill', function (d) { return jet(d[2]) })

  const xAxis = d3.axisBottom(x).tickValues(tickValues).tickSize(4.9).tickPadding(4.5)
  const yAxis = d3.axisLeft(y).tickValues(tickValues).tickSize(4.9).tickPadding(4.5)
  const gx = g.append('g').attr('transform', `translate(0,${panelHeight})`).call(xAxis)
  const gy = g.append('g').call(yAxis)
  ;[gx, gy].forEach(function (axis) {
    axis.selectAll('text').attr('font-size', 13.9).attr('font-family', '"DejaVu Sans"').attr('fill', '#000')
    axis.selectAll('line').attr('stroke-width', 1.1).attr('stroke', '#000')
    axis.select('.domain').attr('stroke', 'none')
  })

  g.append('rect')
    .attr('width', panelWidth)
    .attr('height', panelHeight)
    .attr('fill', 'none')
    .attr('stroke', '#000')
    .attr('stroke-width', 1.1)
})
</script>
</body>
</html>
